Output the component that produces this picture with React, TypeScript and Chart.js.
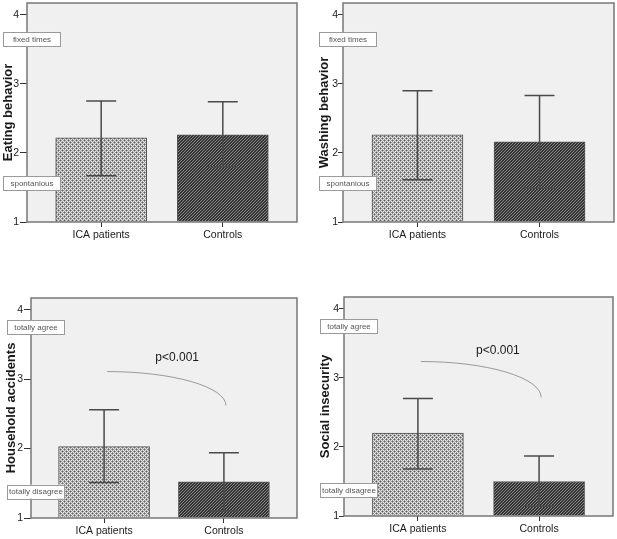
import React, { useEffect, useRef } from 'react';
import { Chart, registerables } from 'chart.js';
Chart.register(...registerables);

// ---------- data ----------
const categories = ['ICA patients', 'Controls'];
const yTickValues = [1, 2, 3, 4];

const eatingMeans = [2.22, 2.26];
const eatingLow = [1.67, 1.80];
const eatingHigh = [2.75, 2.74];

const washingMeans = [2.26, 2.16];
const washingLow = [1.61, 1.49];
const washingHigh = [2.90, 2.83];

const householdMeans = [2.03, 1.52];
const householdLow = [1.51, 1.10];
const householdHigh = [2.56, 1.94];

const socialMeans = [2.20, 1.50];
const socialLow = [1.68, 1.14];
const socialHigh = [2.70, 1.87];

const frequencyLabels = ['fixed times', 'spontanious'];
const frequencyLabelValues = [3.65, 1.565];
const agreementLabels = ['totally agree', 'totally disagree'];
const householdAgreementValues = [3.75, 1.38];
const socialAgreementValues = [3.75, 1.37];

const sigText = 'p<0.001';
// [textX, textY, fromX, fromY, toX, toY] in data units
const householdSig = [0.61, 3.31, 0.025, 3.11, 1.017, 2.62];
const socialSig = [0.66, 3.39, 0.025, 3.236, 1.017, 2.716];

// ---------- styling / layout ----------
const FONT = "'Liberation Sans', Arial, Helvetica, sans-serif";

type Panel = {
  title: string;
  means: number[];
  low: number[];
  high: number[];
  boxLabels: string[];
  boxValues: number[];
  sig?: number[];
  L: number; T: number; W: number; H: number;
  yWidth: number; xHeight: number; padTop: number; padRight: number; titlePad: number;
  tickLen: number; tickPad: number;
};

const panels: Panel[] = [
  { title: 'Eating behavior', means: eatingMeans, low: eatingLow, high: eatingHigh,
    boxLabels: frequencyLabels, boxValues: frequencyLabelValues,
    L: 0, T: 0, W: 308, H: 255, yWidth: 27, xHeight: 33, padTop: 3, padRight: 11, titlePad: 0.5,
    tickLen: 7, tickPad: 1 },
  { title: 'Washing behavior', means: washingMeans, low: washingLow, high: washingHigh,
    boxLabels: frequencyLabels, boxValues: frequencyLabelValues,
    L: 308, T: 0, W: 309, H: 255, yWidth: 35, xHeight: 33, padTop: 3, padRight: 3, titlePad: 9,
    tickLen: 5, tickPad: 0 },
  { title: 'Household accidents', means: householdMeans, low: householdLow, high: householdHigh,
    boxLabels: agreementLabels, boxValues: householdAgreementValues, sig: householdSig,
    L: 0, T: 265, W: 308, H: 274, yWidth: 31, xHeight: 21, padTop: 33, padRight: 11, titlePad: 4,
    tickLen: 7, tickPad: 1 },
  { title: 'Social insecurity', means: socialMeans, low: socialLow, high: socialHigh,
    boxLabels: agreementLabels, boxValues: socialAgreementValues, sig: socialSig,
    L: 308, T: 265, W: 309, H: 274, yWidth: 36, xHeight: 23, padTop: 32, padRight: 4, titlePad: 9.5,
    tickLen: 5, tickPad: 0 },
];

function makeDotPattern(ctx: CanvasRenderingContext2D) {
  const c = document.createElement('canvas');
  c.width = 4; c.height = 4;
  const g = c.getContext('2d')!;
  g.fillStyle = '#e4e4e4';
  g.fillRect(0, 0, 4, 4);
  g.fillStyle = '#9c9c9c';
  [[1, 0], [0, 1], [3, 0], [0, 3], [3, 2], [2, 3], [1, 2], [2, 1]].forEach(([x, y]) => g.fillRect(x, y, 1, 1));
  g.fillStyle = '#5e5e5e';
  g.fillRect(0, 0, 1, 1);
  g.fillRect(2, 2, 1, 1);
  return ctx.createPattern(c, 'repeat')!;
}

function makeHatchPattern(ctx: CanvasRenderingContext2D) {
  const c = document.createElement('canvas');
  c.width = 3; c.height = 3;
  const g = c.getContext('2d')!;
  g.fillStyle = '#333333';
  g.fillRect(0, 0, 3, 3);
  g.fillStyle = '#8a8a8a';
  g.fillRect(0, 2, 1, 1);
  g.fillRect(1, 1, 1, 1);
  g.fillRect(2, 0, 1, 1);
  return ctx.createPattern(c, 'repeat')!;
}

function PanelChart({ p }: { p: Panel }) {
  const ref = useRef<HTMLCanvasElement>(null);
  useEffect(() => {
    const canvas = ref.current!;
    const ctx = canvas.getContext('2d')!;
    const dots = makeDotPattern(ctx);
    const hatch = makeHatchPattern(ctx);

    const decor = {
      id: 'decor',
      beforeDatasetsDraw(chart: any) {
        const { ctx: c, chartArea: a } = chart;
        c.save();
        c.fillStyle = '#f0f0f0';
        c.fillRect(a.left, a.top, a.right - a.left, a.bottom - a.top);
        c.restore();
      },
      afterDatasetsDraw(chart: any) {
        const { ctx: c, chartArea: a } = chart;
        const x = chart.scales.x, y = chart.scales.y;
        c.save();
        // error bars
        c.strokeStyle = '#4a4a4a';
        c.lineWidth = 1.5;
        p.low.forEach((lo, i) => {
          const cx = x.getPixelForValue(i);
          const yl = y.getPixelForValue(lo);
          const yh = y.getPixelForValue(p.high[i]);
          c.beginPath();
          c.moveTo(cx, yl); c.lineTo(cx, yh);
          c.moveTo(cx - 15, yh); c.lineTo(cx + 15, yh);
          c.moveTo(cx - 15, yl); c.lineTo(cx + 15, yl);
          c.stroke();
        });
        // frame
        c.strokeStyle = '#777777';
        c.lineWidth = 1.5;
        c.strokeRect(a.left, a.top, a.right - a.left, a.bottom - a.top);
        // significance
        if (p.sig) {
          const [tx, ty, fx, fy, ex, ey] = p.sig;
          const cx = x.getPixelForValue(fx);
          const cy = y.getPixelForValue(ey);
          const rx = x.getPixelForValue(ex) - cx;
          const ry = cy - y.getPixelForValue(fy);
          c.strokeStyle = '#9a9a9a';
          c.lineWidth = 1;
          c.beginPath();
          c.ellipse(cx, cy, rx, ry, 0, -Math.PI / 2, 0);
          c.stroke();
          c.fillStyle = '#1a1a1a';
          c.font = `12px ${FONT}`;
          c.textAlign = 'center';
          c.textBaseline = 'middle';
          c.fillText(sigText, x.getPixelForValue(tx), y.getPixelForValue(ty));
        }
        c.restore();
      },
      afterDraw(chart: any) {
        const { ctx: c, chartArea: a } = chart;
        const y = chart.scales.y;
        c.save();
        p.boxLabels.forEach((lab, i) => {
          const cy = y.getPixelForValue(p.boxValues[i]);
          const bx = a.left - 24;
          const bw = 57;
          const bh = 14;
          c.fillStyle = '#ffffff';
          c.fillRect(bx, cy - bh / 2, bw, bh);
          c.strokeStyle = '#9a9a9a';
          c.lineWidth = 1;
          c.strokeRect(bx + 0.5, Math.round(cy - bh / 2) + 0.5, bw, bh);
          c.fillStyle = '#555555';
          c.font = `8px ${FONT}`;
          c.textAlign = 'center';
          c.textBaseline = 'middle';
          c.fillText(lab, bx + bw / 2 + 0.5, cy + 0.5, bw - 2);
        });
        c.restore();
      },
    };

    const chart = new Chart(canvas, {
      type: 'bar',
      data: {
        datasets: [{
          data: p.means.map((m, i) => ({ x: i, y: m })),
          backgroundColor: [dots, hatch],
          borderColor: '#555555',
          borderWidth: 1,
          barThickness: 91,
          base: 1,
        } as any],
      },
      options: {
        animation: false,
        responsive: false,
        events: [],
        layout: { padding: { top: p.padTop, right: p.padRight, left: 0, bottom: 0 } },
        plugins: { legend: { display: false }, tooltip: { enabled: false }, title: { display: false } },
        scales: {
          x: {
            type: 'linear',
            min: -0.61,
            max: 1.61,
            offset: false,
            grid: { drawOnChartArea: false, offset: false, tickLength: 5, color: '#333333', lineWidth: 1 },
            border: { display: false },
            ticks: {
              font: { family: FONT, size: 10.5 },
              color: '#1a1a1a',
              padding: 2,
              maxRotation: 0,
              autoSkip: false,
              callback: (v: any) => categories[v] ?? '',
            },
            afterBuildTicks: (s: any) => { s.ticks = categories.map((_, i) => ({ value: i })); },
            afterFit: (s: any) => { s.height = p.xHeight; s.paddingLeft = 0; s.paddingRight = 0; },
          },
          y: {
            type: 'linear',
            min: 1,
            max: 4.17,
            grid: { drawOnChartArea: false, tickLength: p.tickLen, color: '#333333', lineWidth: 1 },
            border: { display: false },
            ticks: { font: { family: FONT, size: 10.5 }, color: '#1a1a1a', padding: p.tickPad },
            afterBuildTicks: (s: any) => { s.ticks = yTickValues.map((v) => ({ value: v })); },
            afterFit: (s: any) => { s.width = p.yWidth; s.paddingTop = 0; s.paddingBottom = 0; },
            title: {
              display: true,
              text: p.title,
              color: '#1a1a1a',
              font: { family: FONT, size: 13, weight: 'bold' },
              padding: { top: p.titlePad, bottom: 0 },
            },
          },
        },
      } as any,
      plugins: [decor],
    });
    return () => chart.destroy();
  }, [p]);

  return (
    <canvas
      ref={ref}
      width={p.W}
      height={p.H}
      style={{ position: 'absolute', left: p.L, top: p.T, width: p.W, height: p.H }}
    />
  );
}

export default function App() {
  return (
    <div style={{ position: 'absolute', left: 0, top: 0, width: 617, height: 539, background: '#ffffff', overflow: 'hidden' }}>
      {panels.map((p) => (
        <PanelChart key={p.title} p={p} />
      ))}
    </div>
  );
}
